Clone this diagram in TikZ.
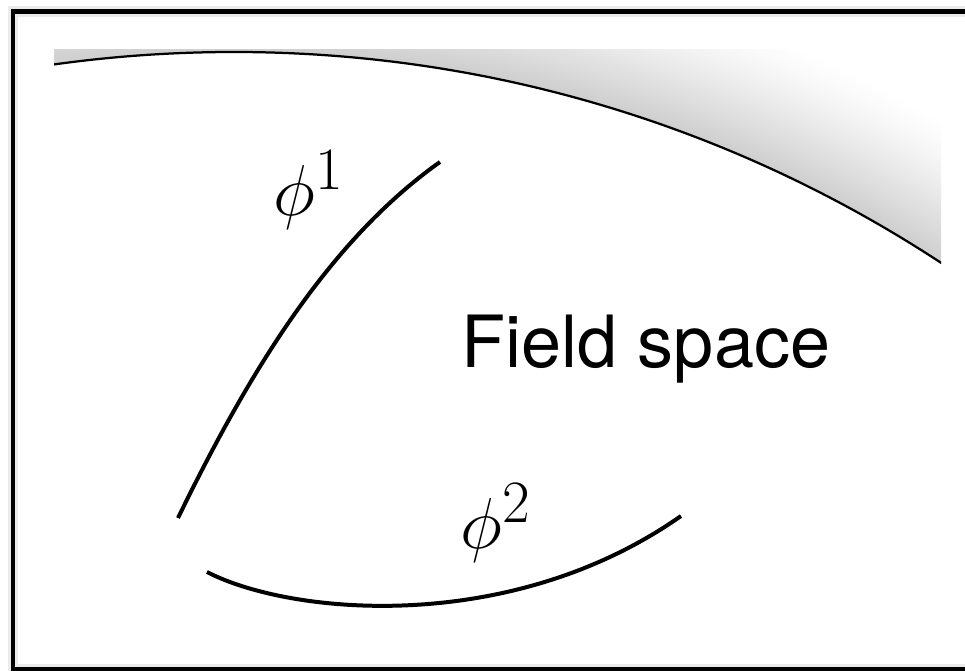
\documentclass[tikz,border=0pt]{standalone}
\usepackage{fontspec}
\newfontfamily\herosfont{TeX Gyre Heros}
\usetikzlibrary{positioning}

\begin{document}
\begin{tikzpicture}[x=0.02cm, y=-0.02cm,
  frameline/.style={line width=0.1cm, black},
  boundary/.style={line width=0.045cm, black},
  fieldcurve/.style={line width=0.08cm, black},
  philabel/.style={font=\Huge, scale=1.65, inner sep=0pt},
  titlelabel/.style={font=\herosfont\fontsize{41}{49}\selectfont, inner sep=0pt}
]
\useasboundingbox (0,0) rectangle (965,671);
% Frame with soft shadow
\draw[line width=0.22cm, black!8] (13,12) rectangle (1000,670);
\draw[frameline] (13,12) rectangle (1000,670);
% Boundary of field space with shading outside
\coordinate (centre) at (234,1342);
\begin{scope}
  \clip (54,50) rectangle (941,300);
  \foreach \d [evaluate=\d as \g using {19*(1-\d/60)^1.3}] in {59,...,0}
    \draw[black!\g, line width=0.05cm] (centre) circle[radius=1291+2*\d];
  \draw[boundary] (centre) circle[radius=1290];
\end{scope}
% Field directions
\coordinate (a1) at (178,518);
\coordinate (b1) at (440,162);
\coordinate (a2) at (207,572);
\coordinate (b2) at (681,516);
\draw[fieldcurve] (a1) .. controls (250,370) and (330,240) .. (b1);
\draw[fieldcurve] (a2) .. controls (290,615) and (510,636) .. (b2);
% Labels
\node[philabel] (phione) at (309,190) {$\phi^1$};
\node[philabel] (phitwo) at (496,523) {$\phi^2$};
\node[titlelabel, anchor=base] (fieldspace) at (646,368) {Field space};
\end{tikzpicture}
\end{document}
